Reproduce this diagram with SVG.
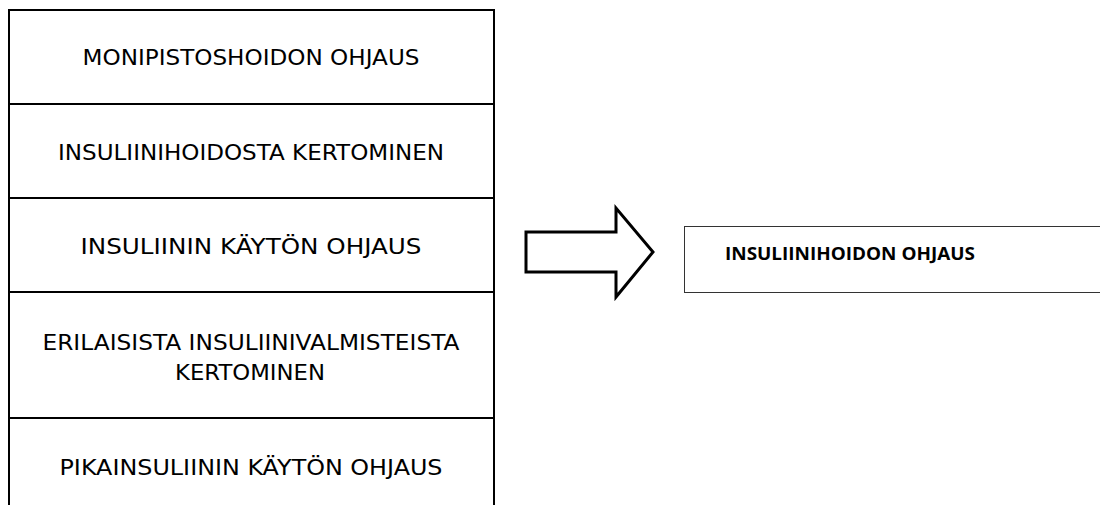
<svg xmlns="http://www.w3.org/2000/svg" width="1100" height="505" viewBox="0 0 1100 505">
  <style>
    .cell { fill: #fff; stroke: #000; stroke-width: 2; }
    .lbl { font-family: "DejaVu Sans", "Liberation Sans", sans-serif; font-size: 20.5px; fill: #000; text-anchor: middle; }
    .res { fill: #fff; stroke: #333; stroke-width: 1; }
    .reslbl { font-family: "Open Sans", "Liberation Sans", sans-serif; font-weight: bold; font-size: 18px; fill: #000; text-anchor: middle; }
    .arrow { fill: #fff; stroke: #000; stroke-width: 3; stroke-linejoin: miter; }
  </style>
  <rect width="1100" height="505" fill="#fff"/>

  <g id="monipistoshoito">
    <rect class="cell" x="9" y="10" width="485" height="94"/>
    <text class="lbl" x="251" y="65" textLength="337" lengthAdjust="spacingAndGlyphs">MONIPISTOSHOIDON OHJAUS</text>
  </g>
  <g id="insuliinihoito">
    <rect class="cell" x="9" y="104" width="485" height="94"/>
    <text class="lbl" x="251" y="160" textLength="386" lengthAdjust="spacingAndGlyphs">INSULIINIHOIDOSTA KERTOMINEN</text>
  </g>
  <g id="insuliinin-kaytto">
    <rect class="cell" x="9" y="198" width="485" height="94"/>
    <text class="lbl" x="251" y="254" textLength="341" lengthAdjust="spacingAndGlyphs">INSULIININ KÄYTÖN OHJAUS</text>
  </g>
  <g id="valmisteet">
    <rect class="cell" x="9" y="292" width="485" height="126"/>
    <text class="lbl" x="251" y="350" textLength="417" lengthAdjust="spacingAndGlyphs">ERILAISISTA INSULIINIVALMISTEISTA</text>
    <text class="lbl" x="250" y="380" textLength="150" lengthAdjust="spacingAndGlyphs">KERTOMINEN</text>
  </g>
  <g id="pikainsuliini">
    <rect class="cell" x="9" y="418" width="485" height="100"/>
    <text class="lbl" x="251" y="475" textLength="383" lengthAdjust="spacingAndGlyphs">PIKAINSULIININ KÄYTÖN OHJAUS</text>
  </g>

  <g id="connectors">
    <polygon class="arrow" points="526,232 616,232 616,208 653,252 616,297 616,272 526,272"/>
  </g>

  <g id="insuliinihoidon-ohjaus">
    <rect class="res" x="684.5" y="226.5" width="430" height="66"/>
    <text class="reslbl" x="850" y="260" textLength="250" lengthAdjust="spacingAndGlyphs">INSULIINIHOIDON OHJAUS</text>
  </g>
</svg>
